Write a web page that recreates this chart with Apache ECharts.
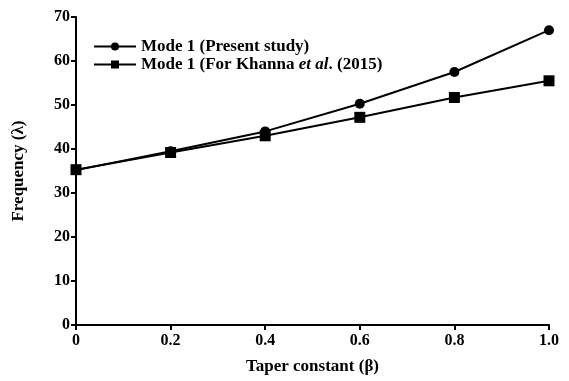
<!DOCTYPE html>
<html>
<head>
<meta charset="utf-8">
<script src="https://cdn.jsdelivr.net/npm/echarts@6/dist/echarts.min.js"></script>
<style>
  html, body { margin: 0; padding: 0; background: #fff; }
  #chart { width: 569px; height: 381px; }
</style>
</head>
<body>
<div id="chart"></div>
<script>
// taper constant values
const beta = [0, 0.2, 0.4, 0.6, 0.8, 1.0];
// Mode 1 (Present study)
const presentStudy = [35.2, 39.5, 44.0, 50.3, 57.5, 67.0];
// Mode 1 (For Khanna et al. (2015))
const khanna = [35.3, 39.2, 43.0, 47.2, 51.7, 55.5];

const seriesNames = ['Mode 1 (Present study)', 'Mode 1 (For Khanna et al. (2015)'];

const font = 'Liberation Serif';
const chart = echarts.init(document.getElementById('chart'), null, {renderer: 'canvas'});

function pairs(vals) {
    return beta.map((b, i) => [b, vals[i]]);
}

const option = {
    animation: false,
    grid: {left: 76, right: 20, top: 17, bottom: 56},
    legend: {
        left: 88,
        top: 33,
        orient: 'vertical',
        itemGap: 1,
        itemWidth: 42,
        itemHeight: 10,
        data: seriesNames,
        textStyle: {
            fontFamily: font, fontWeight: 'bold', fontSize: 17, color: '#000',
            rich: {
                b: {fontFamily: font, fontWeight: 'bold', fontSize: 17, color: '#000'},
                i: {fontFamily: font, fontWeight: 'bold', fontStyle: 'italic', fontSize: 17, color: '#000'}
            }
        },
        formatter: function (name) {
            if (name === seriesNames[1]) {
                return '{b|Mode 1 (For Khanna }{i|et al}{b|. (2015)}';
            }
            return '{b|' + name + '}';
        }
    },
    xAxis: {
        type: 'value',
        min: 0,
        max: 1,
        interval: 0.2,
        name: 'Taper constant (β)',
        nameLocation: 'middle',
        nameGap: 33,
        nameTextStyle: {fontFamily: font, fontWeight: 'bold', fontSize: 17, color: '#000'},
        splitLine: {show: false},
        axisLine: {lineStyle: {color: '#000', width: 2}},
        axisTick: {length: 5, lineStyle: {color: '#000', width: 2}},
        axisLabel: {
            fontFamily: font, fontWeight: 'bold', fontSize: 16, color: '#000', margin: 8,
            formatter: v => v === 0 ? '0' : v.toFixed(1)
        }
    },
    yAxis: {
        type: 'value',
        min: 0,
        max: 70,
        interval: 10,
        name: 'Frequency (λ)',
        nameLocation: 'middle',
        nameGap: 49,
        nameTextStyle: {fontFamily: font, fontWeight: 'bold', fontSize: 17, color: '#000'},
        splitLine: {show: false},
        axisLine: {show: true, lineStyle: {color: '#000', width: 2}},
        axisTick: {show: true, length: 5, lineStyle: {color: '#000', width: 2}},
        axisLabel: {fontFamily: font, fontWeight: 'bold', fontSize: 16, color: '#000', margin: 6}
    },
    series: [
        {
            name: seriesNames[0],
            type: 'line',
            data: pairs(presentStudy),
            symbol: 'circle',
            symbolSize: 10,
            itemStyle: {color: '#000'},
            lineStyle: {color: '#000', width: 2}
        },
        {
            name: seriesNames[1],
            type: 'line',
            data: pairs(khanna),
            symbol: 'rect',
            symbolSize: 11,
            itemStyle: {color: '#000'},
            lineStyle: {color: '#000', width: 2}
        }
    ]
};

chart.setOption(option);
</script>
</body>
</html>
